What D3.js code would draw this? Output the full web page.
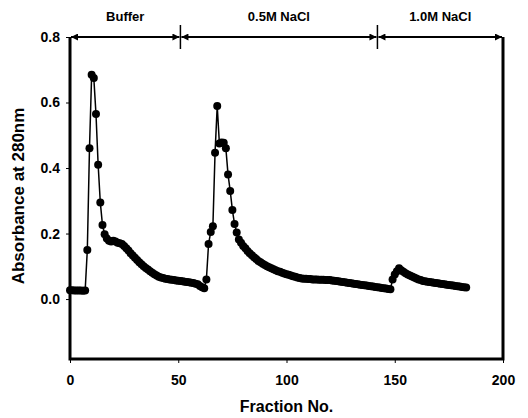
<!DOCTYPE html>
<html>
<head>
<meta charset="utf-8">
<script src="https://cdn.jsdelivr.net/npm/d3@7"></script>
<style>
	body { margin: 0; background: #fff; }
	svg text { font-family: "Liberation Sans", Arial, sans-serif; font-weight: bold; fill: #000; }
</style>
</head>
<body>
<div id="chart"></div>
<script>
	"use strict";

	// absorbance at 280nm, one value per fraction starting at fraction 0
	var absorbance = [
		0.027, 0.027, 0.026, 0.026, 0.026, 0.026, 0.025, 0.026, 0.150, 0.460,
		0.685, 0.675, 0.565, 0.410, 0.295, 0.226, 0.198, 0.185, 0.178, 0.176,
		0.178, 0.176, 0.172, 0.170, 0.168, 0.162, 0.155, 0.148, 0.140, 0.133,
		0.126, 0.119, 0.112, 0.106, 0.100, 0.095, 0.090, 0.085, 0.080, 0.076,
		0.072, 0.068, 0.066, 0.064, 0.062, 0.061, 0.060, 0.059, 0.058, 0.057,
		0.056, 0.055, 0.054, 0.053, 0.052, 0.051, 0.050, 0.049, 0.047, 0.045,
		0.040, 0.036, 0.033, 0.060, 0.168, 0.205, 0.222, 0.447, 0.589, 0.475,
		0.478, 0.477, 0.460, 0.380, 0.330, 0.272, 0.229, 0.203, 0.182, 0.172,
		0.162, 0.155, 0.147, 0.140, 0.134, 0.128, 0.122, 0.116, 0.112, 0.108,
		0.104, 0.100, 0.097, 0.094, 0.091, 0.088, 0.085, 0.083, 0.080, 0.078,
		0.076, 0.074, 0.072, 0.070, 0.068, 0.066, 0.064, 0.063, 0.062, 0.062,
		0.061, 0.061, 0.060, 0.060, 0.060, 0.059, 0.059, 0.059, 0.058, 0.058,
		0.058, 0.057, 0.056, 0.055, 0.054, 0.053, 0.052, 0.051, 0.050, 0.049,
		0.048, 0.047, 0.046, 0.045, 0.044, 0.043, 0.042, 0.041, 0.040, 0.039,
		0.038, 0.037, 0.036, 0.035, 0.034, 0.033, 0.032, 0.031, 0.030, 0.060,
		0.075, 0.085, 0.094, 0.088, 0.083, 0.079, 0.075, 0.072, 0.069, 0.066,
		0.063, 0.060, 0.058, 0.055, 0.054, 0.053, 0.052, 0.051, 0.050, 0.049,
		0.048, 0.047, 0.046, 0.045, 0.044, 0.043, 0.042, 0.041, 0.040, 0.039,
		0.038, 0.037, 0.036, 0.035
	];

	// elution steps (fraction where each buffer starts / ends)
	var stepNames = ["Buffer", "0.5M NaCl", "1.0M NaCl"];
	var stepBounds = [0, 51, 142, 200];

	var xTicks = [0, 50, 100, 150, 200];
	var yTicks = [0.0, 0.2, 0.4, 0.6, 0.8];

	var width = 528, height = 418;
	var margin = { top: 37, right: 25, bottom: 59, left: 70 };

	var svg = d3.select("#chart").append("svg")
		.attr("width", width)
		.attr("height", height);

	var xScale = d3.scaleLinear().domain([0, 200]).range([margin.left, width - margin.right]);
	var yScale = d3.scaleLinear().domain([-0.183, 0.8]).range([height - margin.bottom, margin.top]);

	// arrowhead marker
	var defs = svg.append("defs");
	defs.append("marker")
		.attr("id", "arrow")
		.attr("viewBox", "0 0 10 10")
		.attr("refX", 10).attr("refY", 5)
		.attr("markerWidth", 5).attr("markerHeight", 3.5)
		.attr("markerUnits", "strokeWidth")
		.attr("orient", "auto-start-reverse")
		.append("path")
		.attr("d", "M0,0L10,5L0,10Z")
		.attr("fill", "#000");

	//************ FRAME ************
	var x0 = xScale(0), x1 = xScale(200), yb = yScale.range()[0], yt = yScale.range()[1];
	svg.append("path")
		.attr("d", "M" + x0 + "," + yt + "V" + yb + "H" + x1 + "V" + yt)
		.attr("fill", "none")
		.attr("stroke", "#000")
		.attr("stroke-width", 3);

	//************ AXES ************
	var yAxis = d3.axisLeft(yScale)
		.tickValues(yTicks)
		.tickFormat(d3.format(".1f"))
		.tickSize(4)
		.tickPadding(6);
	var gy = svg.append("g").attr("transform", "translate(" + x0 + ",0)").call(yAxis);
	gy.select(".domain").remove();
	gy.selectAll("text").style("font-size", "14px");

	var xAxis = d3.axisBottom(xScale)
		.tickValues(xTicks)
		.tickSize(4)
		.tickPadding(12);
	var gx = svg.append("g").attr("transform", "translate(0," + yb + ")").call(xAxis);
	gx.select(".domain").remove();
	gx.selectAll("text").style("font-size", "14px");

	svg.append("text")
		.attr("x", (x0 + x1) / 2)
		.attr("y", 412)
		.attr("text-anchor", "middle")
		.style("font-size", "16px")
		.text("Fraction No.");

	svg.append("text")
		.attr("transform", "translate(24," + ((yt + yb) / 2 - 2) + ") rotate(-90)")
		.attr("text-anchor", "middle")
		.style("font-size", "17px")
		.text("Absorbance at 280nm");

	//************ ELUTION STEPS ************
	var steps = svg.append("g").attr("class", "steps");
	stepNames.forEach(function(name, i) {
		var a = xScale(stepBounds[i]), b = xScale(stepBounds[i + 1]);
		steps.append("line")
			.attr("x1", a + 1).attr("x2", b - 1)
			.attr("y1", yt).attr("y2", yt)
			.attr("stroke", "#000")
			.attr("stroke-width", 2)
			.attr("marker-start", "url(#arrow)")
			.attr("marker-end", "url(#arrow)");
		steps.append("text")
			.attr("x", (a + b) / 2)
			.attr("y", 21)
			.attr("text-anchor", "middle")
			.style("font-size", "13px")
			.text(name);
	});
	steps.selectAll(".sep")
		.data(stepBounds.slice(1, -1))
		.enter().append("line")
		.attr("class", "sep")
		.attr("x1", function(d) { return xScale(d); })
		.attr("x2", function(d) { return xScale(d); })
		.attr("y1", yt - 12).attr("y2", yt + 12)
		.attr("stroke", "#000")
		.attr("stroke-width", 1.5);

	//************ DATA ************
	var line = d3.line()
		.x(function(d, i) { return xScale(i); })
		.y(function(d) { return yScale(d); });

	svg.append("path")
		.datum(absorbance)
		.attr("d", line)
		.attr("fill", "none")
		.attr("stroke", "#000")
		.attr("stroke-width", 1.5);

	svg.selectAll(".dot")
		.data(absorbance)
		.enter().append("circle")
		.attr("class", "dot")
		.attr("cx", function(d, i) { return xScale(i); })
		.attr("cy", function(d) { return yScale(d); })
		.attr("r", 4)
		.attr("fill", "#000");
</script>
</body>
</html>
